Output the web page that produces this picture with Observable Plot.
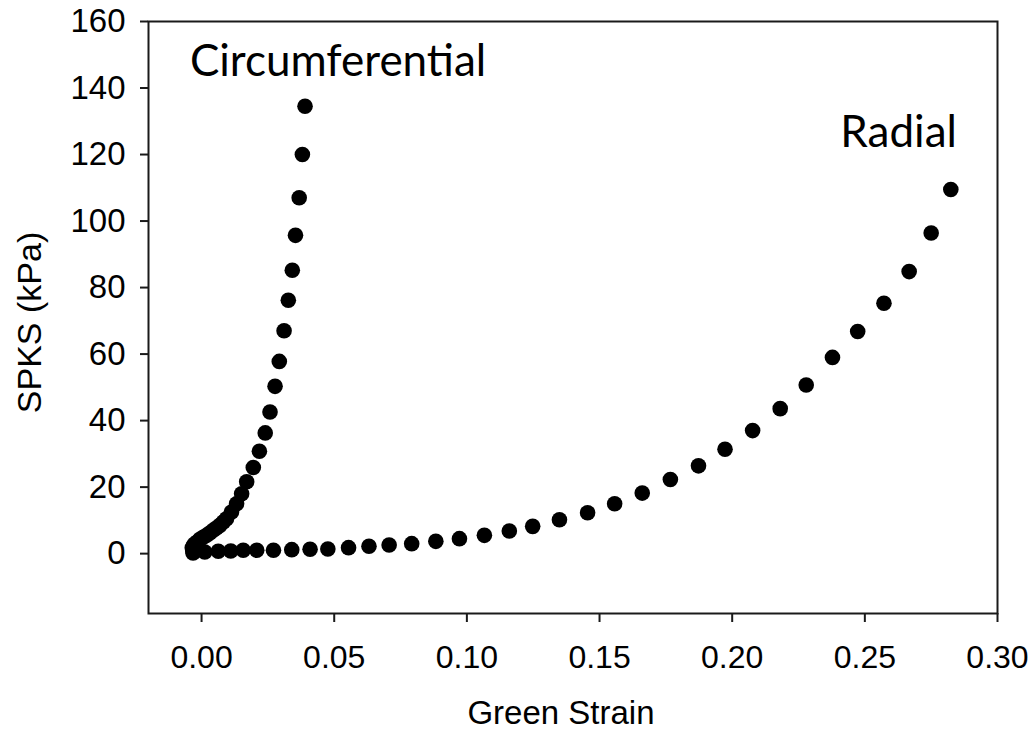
<!DOCTYPE html>
<html><head><meta charset="utf-8">
<script src="https://cdn.jsdelivr.net/npm/d3@7"></script>
<script src="https://cdn.jsdelivr.net/npm/@observablehq/plot@0.6"></script>
<style>body{margin:0;background:#fff;}</style>
</head><body><div id="chart"></div>
<script>
// Circumferential series
const circX = [-0.0033, -0.0035, -0.0030, -0.0025, -0.0015, -0.0006, 0.0006, 0.0019, 0.0031, 0.0044, 0.0056, 0.0069, 0.0082, 0.0094, 0.0113, 0.0132, 0.0151, 0.0170, 0.0195, 0.0218, 0.0240, 0.0258, 0.0277, 0.0293, 0.0311, 0.0327, 0.0342, 0.0354, 0.0368, 0.0380, 0.0390];
const circY = [0.8, 1.8, 2.5, 3.0, 3.6, 4.3, 4.9, 5.5, 6.2, 7.0, 7.7, 8.5, 9.5, 10.5, 12.5, 15.0, 18.0, 21.6, 25.9, 30.8, 36.3, 42.6, 50.3, 57.8, 67.0, 76.2, 85.2, 95.7, 107.0, 120.0, 134.5];
// Radial series
const radX = [-0.0032, 0.0012, 0.0063, 0.0110, 0.0157, 0.0208, 0.0271, 0.0340, 0.0409, 0.0476, 0.0554, 0.0631, 0.0707, 0.0792, 0.0883, 0.0972, 0.1066, 0.1160, 0.1248, 0.1349, 0.1455, 0.1557, 0.1661, 0.1767, 0.1873, 0.1973, 0.2077, 0.2181, 0.2279, 0.2378, 0.2473, 0.2572, 0.2667, 0.2750, 0.2824];
const radY = [0.2, 0.5, 0.7, 0.8, 1.0, 1.0, 1.0, 1.2, 1.3, 1.4, 1.8, 2.2, 2.6, 3.0, 3.7, 4.5, 5.5, 6.8, 8.2, 10.2, 12.3, 15.0, 18.2, 22.3, 26.4, 31.4, 37.0, 43.6, 50.7, 59.0, 66.8, 75.3, 84.8, 96.4, 109.5];

const xTicks = [0, 0.05, 0.10, 0.15, 0.20, 0.25, 0.30];
const yTicks = [0, 20, 40, 60, 80, 100, 120, 140, 160];

const seriesNames = ["Circumferential", "Radial"];
const seriesLabelX = [-0.0044, 0.2847];
const seriesLabelY = [147.8, 126.4];
const seriesLabelAnchor = ["start", "end"];

const xTitle = "Green Strain";
const yTitle = "SPKS (kPa)";

const points = [
  ...circX.map((x, i) => ({series: seriesNames[0], x, y: circY[i]})),
  ...radX.map((x, i) => ({series: seriesNames[1], x, y: radY[i]}))
];
const seriesLabels = seriesNames.map((name, i) => ({name, x: seriesLabelX[i], y: seriesLabelY[i], anchor: seriesLabelAnchor[i]}));

const fmt = d3.format(".2f");
const FS = 33;
const chart = Plot.plot({
  width: 1034, height: 740,
  marginLeft: 148, marginRight: 37, marginTop: 21, marginBottom: 127,
  style: {fontFamily: "'Liberation Sans', Arial, sans-serif", fontSize: FS + "px", color: "#000", background: "#fff"},
  x: {domain: [-0.02, 0.30], label: null},
  y: {domain: [-18, 160], label: null},
  marks: [
    Plot.frame({stroke: "#1a1a1a", strokeWidth: 2}),
    Plot.axisX({ticks: xTicks, tickFormat: fmt, tickSize: 9, tickPadding: 23, label: null, strokeWidth: 2, stroke: "#1a1a1a", fontSize: 32}),
    Plot.axisY({ticks: yTicks, tickSize: 8, tickPadding: 15, label: null, strokeWidth: 2, stroke: "#1a1a1a", fontSize: FS}),
    Plot.dot(points, {x: "x", y: "y", r: 7.8, fill: "#000", stroke: "none"}),
    Plot.text(seriesLabels.filter(d => d.anchor === "start"), {x: "x", y: "y", text: "name", textAnchor: "start", fontFamily: "Lato, 'Open Sans', sans-serif", fontSize: 44, fill: "#000"}),
    Plot.text(seriesLabels.filter(d => d.anchor === "end"), {x: "x", y: "y", text: "name", textAnchor: "end", fontFamily: "Lato, 'Open Sans', sans-serif", fontSize: 44, fill: "#000"}),
    Plot.text([xTitle], {text: d => d, frameAnchor: "bottom", lineAnchor: "middle", textAnchor: "middle", dy: 100, dx: -12, fontSize: FS, fill: "#000"}),
    Plot.text([yTitle], {text: d => d, frameAnchor: "left", lineAnchor: "middle", textAnchor: "middle", rotate: -90, dx: -118, dy: 5, fontSize: FS + 1, fill: "#000"})
  ]
});
document.getElementById("chart").appendChild(chart);
</script>
</body></html>
